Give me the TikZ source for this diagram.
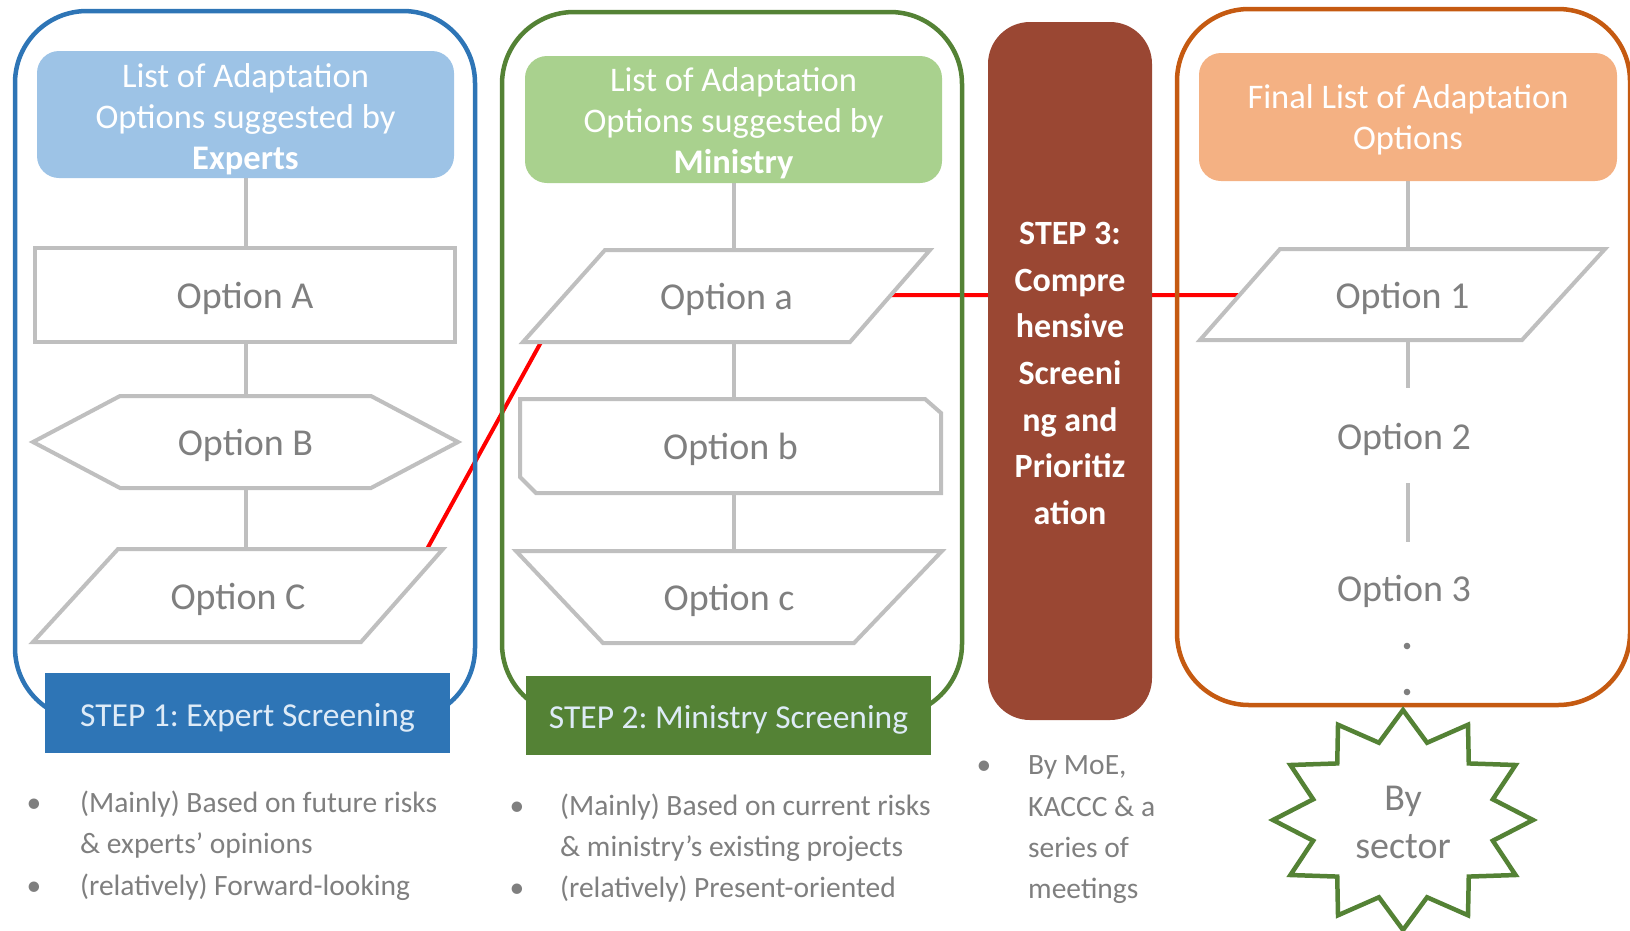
\documentclass[tikz,border=0pt]{standalone}
\usepackage{fontspec}
\setmainfont{Carlito}
\usetikzlibrary{calc}
\frenchspacing

\definecolor{bluePanel}{HTML}{2E75B6}
\definecolor{blueHead}{HTML}{9DC3E6}
\definecolor{greenPanel}{HTML}{548235}
\definecolor{greenHead}{HTML}{A9D18E}
\definecolor{orangePanel}{HTML}{C55A11}
\definecolor{orangeHead}{HTML}{F4B183}
\definecolor{brickStep}{HTML}{9A4733}
\definecolor{shapeGray}{HTML}{BFBFBF}
\definecolor{textGray}{HTML}{7F7F7F}
\definecolor{stepText}{HTML}{DEEBF7}

\pgfdeclarelayer{links}
\pgfdeclarelayer{outlines}
\pgfsetlayers{links,outlines,main}

\begin{document}
\begin{tikzpicture}[x=1pt,y=-1pt,
  panel/.style={line width=4.5pt, rounded corners=72pt},
  headbox/.style={rounded corners=22pt, inner sep=0pt, outer sep=0pt},
  headtext/.style={inner sep=0pt, text=white, align=center,
    font=\fontsize{34.5}{41}\selectfont},
  optbox/.style={inner sep=0pt, outer sep=0pt, text=textGray,
    text height=35pt, text depth=8pt, font=\fontsize{38}{46}\selectfont},
  optline/.style={draw=shapeGray, line width=4pt, fill=white, line join=miter},
  link/.style={draw=shapeGray, line width=4pt},
  redlink/.style={draw=red, line width=4pt},
  stepbar/.style={inner sep=0pt, outer sep=0pt, text=stepText,
    font=\fontsize{33.5}{40}\selectfont},
  bulletdot/.style={text=textGray, inner sep=0pt, anchor=base,
    font=\fontsize{29.5}{41}\selectfont},
  note/.style={text=textGray, inner sep=0pt, anchor=base west,
    font=\fontsize{29.5}{41}\selectfont},
  burstline/.style={draw=greenPanel, line width=4.5pt, fill=white, line join=miter},
]
\useasboundingbox (0,0) rectangle (1630,930);

% ---------- column headers ----------
\node[headbox, fill=blueHead, minimum width=417pt, minimum height=127pt] (hdrE) at (245.5,114.5) {};
\node[headtext] (hdrEtxt) at ($(hdrE.center)+(0,4.5)$)
  {List of Adaptation\\Options suggested by\\\textbf{Experts}};
\node[headbox, fill=greenHead, minimum width=417pt, minimum height=127pt] (hdrM) at (733.5,119.5) {};
\node[headtext] (hdrMtxt) at ($(hdrM.center)+(0,4)$)
  {List of Adaptation\\Options suggested by\\\textbf{Ministry}};
\node[headbox, fill=orangeHead, minimum width=418pt, minimum height=128pt] (hdrF) at (1408,117) {};
\node[headtext] (hdrFtxt) at ($(hdrF.center)+(0,3)$)
  {Final List of Adaptation\\Options};

% ---------- option labels ----------
\node[optbox, minimum width=420pt, minimum height=94pt] (optA) at (245,295) {Option A};
\node[optbox, minimum width=425pt, minimum height=92pt] (optB) at (245.5,442) {Option B};
\node[optbox, minimum width=410pt, minimum height=93pt] (optC) at (238,595.5) {Option C};

\node[optbox, minimum width=407pt, minimum height=92pt] (opta) at (726.5,296) {Option a};
\node[optbox, minimum width=421pt, minimum height=94pt] (optb) at (730.5,446) {Option b};
\node[optbox, minimum width=426pt, minimum height=92pt] (optc) at (729,597) {Option c};

\node[optbox, minimum width=405pt, minimum height=91pt] (opt1) at (1402.5,294.5) {Option 1};
\node[optbox, minimum width=200pt, minimum height=95pt] (opt2) at (1404,435.5) {Option 2};
\node[optbox, minimum width=200pt, minimum height=92pt] (opt3) at (1404,588) {Option 3};

% ---------- step banners ----------
\node[stepbar, fill=bluePanel, minimum width=405pt, minimum height=80pt,
  text height=33pt, text depth=7pt] (step1) at (247.5,713) {STEP 1: Expert Screening};
\node[stepbar, fill=greenPanel, minimum width=405pt, minimum height=79pt,
  text height=32pt, text depth=7pt] (step2) at (728.5,715.5) {STEP 2: Ministry Screening};
\node[fill=brickStep, rounded corners=42pt, minimum width=164pt, minimum height=698pt,
  inner sep=0pt, outer sep=0pt] (step3) at (1070,371) {};
\node[text=white, align=center, inner sep=0pt,
  font=\bfseries\fontsize{34}{46.7}\selectfont] (step3txt) at ($(step3.center)+(0,2.5)$)
  {STEP 3:\\Compre\\hensive\\Screeni\\ng and\\Prioritiz\\ation};

% ---------- burst label ----------
\node[text=textGray, align=center, inner sep=0pt, font=\fontsize{38}{48}\selectfont]
  (burst) at (1403,822) {By\\sector};

% ---------- notes under the columns ----------
\node[bulletdot] (d1) at (34,812) {•};
\node[note] (n1a) at (80,812) {(Mainly) Based on future risks};
\node[note] (n1b) at (80,853) {\& experts’ opinions};
\node[bulletdot] (d2) at (34,895) {•};
\node[note] (n2a) at (80,895) {(relatively) Forward-looking};

\node[bulletdot] (d3) at (517,815) {•};
\node[note] (n3a) at (560,815) {(Mainly) Based on current risks};
\node[note] (n3b) at (560,856) {\& ministry’s existing projects};
\node[bulletdot] (d4) at (517,897) {•};
\node[note] (n4a) at (560,897) {(relatively) Present-oriented};

\node[bulletdot] (d5) at (984,774) {•};
\node[note] (n5a) at (1028,774) {By MoE,};
\node[note] (n5b) at (1028,816) {KACCC \& a};
\node[note] (n5c) at (1028,857) {series of};
\node[note] (n5d) at (1028,898) {meetings};

% ---------- panels and option outlines ----------
\begin{pgfonlayer}{outlines}
  \draw[panel, draw=bluePanel] (15,11) rectangle (475,720);
  \draw[panel, draw=greenPanel] (502,12) rectangle (962,716);
  \draw[panel, draw=orangePanel] (1177,9) rectangle (1630,705);

  \draw[optline] (optA.north west) rectangle (optA.south east);
  \draw[optline] (optB.west) -- ($(optB.north west)+(87,0)$) -- ($(optB.north east)+(-87,0)$)
    -- (optB.east) -- ($(optB.south east)+(-87,0)$) -- ($(optB.south west)+(87,0)$) -- cycle;
  \draw[optline] ($(optC.north west)+(85,0)$) -- (optC.north east)
    -- ($(optC.south east)+(-82,0)$) -- (optC.south west) -- cycle;

  \draw[optline] ($(opta.north west)+(82,0)$) -- (opta.north east)
    -- ($(opta.south east)+(-80,0)$) -- (opta.south west) -- cycle;
  \draw[optline] (optb.north west) -- ($(optb.north east)+(-16,0)$) -- ($(optb.north east)+(0,14)$)
    -- (optb.south east) -- ($(optb.south west)+(16,0)$) -- ($(optb.south west)+(0,-16)$) -- cycle;
  \draw[optline] (optc.north west) -- (optc.north east)
    -- ($(optc.south east)+(-88,0)$) -- ($(optc.south west)+(87,0)$) -- cycle;

  \draw[optline] ($(opt1.north west)+(80,0)$) -- (opt1.north east)
    -- ($(opt1.south east)+(-83,0)$) -- (opt1.south west) -- cycle;

  % twelve-point burst round the sector label
  \draw[burstline] plot[variable=\k, samples at={0,1,...,23}]
    ({1403+ifthenelse(mod(\k,2)==0,130,93)*cos(90+15*\k)},
     {820-ifthenelse(mod(\k,2)==0,110,80)*sin(90+15*\k)}) -- cycle;

  % continuation dots
  \fill[textGray] (1407,646) circle (3.3pt);
  \fill[textGray] (1407,692) circle (3.3pt);
\end{pgfonlayer}

% ---------- connectors ----------
\begin{pgfonlayer}{links}
  \draw[link] (hdrE.south) -- (hdrE.south |- optA.north);
  \draw[link] (hdrE.south |- optA.south) -- (hdrE.south |- optB.north);
  \draw[link] (hdrE.south |- optB.south) -- (hdrE.south |- optC.north);

  \draw[link] (hdrM.south) -- (hdrM.south |- opta.north);
  \draw[link] (hdrM.south |- opta.south) -- (hdrM.south |- optb.north);
  \draw[link] (hdrM.south |- optb.south) -- (hdrM.south |- optc.north);

  \draw[link] (hdrF.south) -- (hdrF.south |- opt1.north);
  \draw[link] (hdrF.south |- opt1.south) -- (hdrF.south |- opt2.north);
  \draw[link] (hdrF.south |- opt2.south) -- (hdrF.south |- opt3.north);

  \coordinate (redStart) at ($(optC.north east)+(-22,11)$);
  \coordinate (redBend) at ($(opta.west)+(44,-1)$);
  \draw[redlink] (redStart) -- (redBend) -- (redBend -| opt1.center);
\end{pgfonlayer}
\end{tikzpicture}
\end{document}
